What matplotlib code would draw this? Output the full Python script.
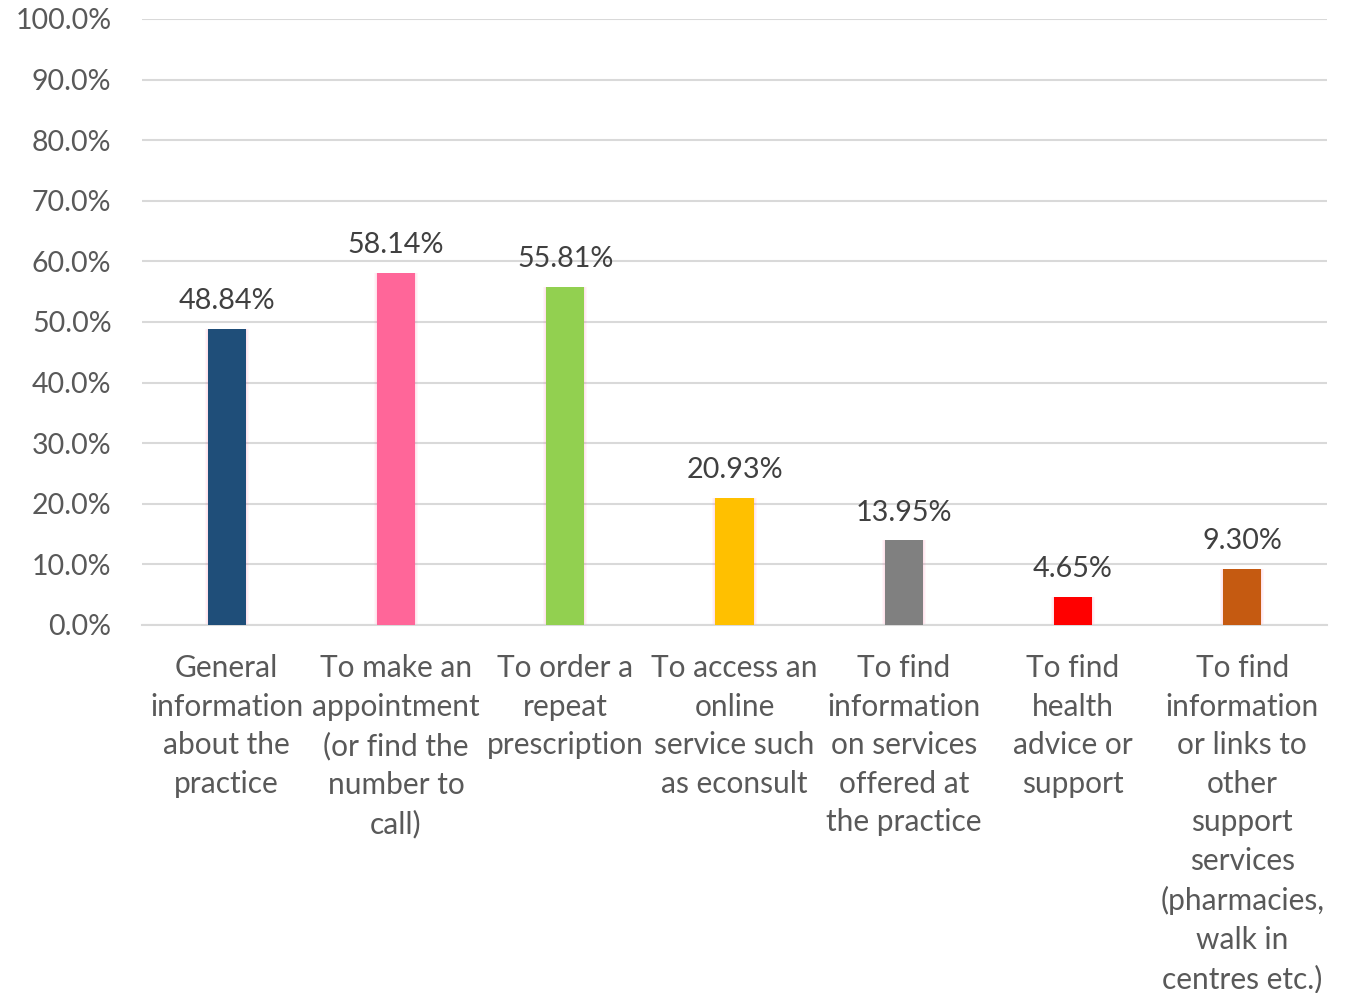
import matplotlib
matplotlib.use("Agg")
import matplotlib.pyplot as plt
import numpy as np

categories = [
    "General\ninformation\nabout the\npractice",
    "To make an\nappointment\n(or find the\nnumber to\ncall)",
    "To order a\nrepeat\nprescription",
    "To access an\nonline\nservice such\nas econsult",
    "To find\ninformation\non services\noffered at\nthe practice",
    "To find\nhealth\nadvice or\nsupport",
    "To find\ninformation\nor links to\nother\nsupport\nservices\n(pharmacies,\nwalk in\ncentres etc.)",
]
values = [48.84, 58.14, 55.81, 20.93, 13.95, 4.65, 9.30]
colors = ["#1F4E79", "#FF6699", "#92D050", "#FFC000", "#808080", "#FF0000", "#C55A11"]
yticks = [0, 10, 20, 30, 40, 50, 60, 70, 80, 90, 100]

plt.rcParams["font.family"] = ["Lato", "DejaVu Sans"]

fig = plt.figure(figsize=(13.45, 9.93), dpi=100)
ax = fig.add_axes([0.1056, 0.3706, 0.881, 0.6103])

x = np.arange(len(values))
bw = 0.225

# soft pink glow behind each bar
for i, a in enumerate([0.05, 0.05, 0.06]):
    grow = 0.012 * (3 - i)
    ax.bar(x, np.array(values) + 0.25 * (3 - i), width=bw + grow,
           bottom=-0.25 * (3 - i), color="#FF4F8B", alpha=a, zorder=2, linewidth=0)

ax.bar(x, values, width=bw, color=colors, zorder=3, linewidth=0)

for xi, v in zip(x, values):
    ax.text(xi, v + 4.6, f"{v:.2f}%", ha="center", va="center",
            fontsize=20.7, color="#404040", zorder=4)

ax.set_ylim(0, 100)
ax.set_xlim(-0.5, len(values) - 0.5)
ax.set_yticks(yticks)
ax.set_yticklabels([f"{t:.1f}%" for t in yticks], fontsize=20.5, color="#595959")
ax.set_xticks(x)
ax.set_xticklabels(categories, fontsize=21.5, color="#595959", linespacing=1.46, va="top")
ax.tick_params(axis="both", length=0)
ax.tick_params(axis="y", pad=22)
ax.tick_params(axis="x", pad=21)

ax.grid(axis="y", color="#D9D9D9", linewidth=1.5, zorder=0)
ax.set_axisbelow(True)
for s in ["top", "right", "left"]:
    ax.spines[s].set_visible(False)
ax.spines["bottom"].set_color("#D9D9D9")
ax.spines["bottom"].set_linewidth(1.5)

fig.savefig("out.png", dpi=100)
